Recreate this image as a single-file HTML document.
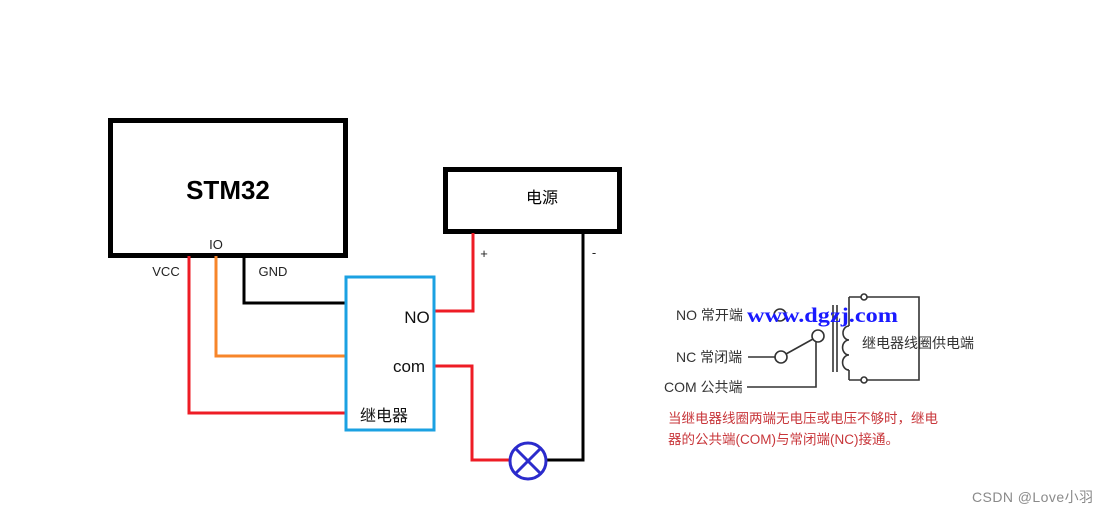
<!DOCTYPE html>
<html><head><meta charset="utf-8"><style>
html,body{margin:0;padding:0;background:#fff;}
svg{display:block;}
text{font-family:"Liberation Sans","Noto Sans CJK SC",sans-serif;}
</style></head><body>
<svg width="1109" height="516" viewBox="0 0 1109 516" xmlns="http://www.w3.org/2000/svg">
<rect width="1109" height="516" fill="#fff"/>
<rect x="110.5" y="120.5" width="235" height="135" fill="none" stroke="#000" stroke-width="5"/>
<text x="228" y="199" font-size="26" font-weight="bold" text-anchor="middle" fill="#000">STM32</text>
<text x="216" y="249" font-size="13" text-anchor="middle" fill="#222">IO</text>
<text x="166" y="276" font-size="13" text-anchor="middle" fill="#222">VCC</text>
<text x="273" y="276" font-size="13" text-anchor="middle" fill="#222">GND</text>
<rect x="445.5" y="169.5" width="174" height="62" fill="none" stroke="#000" stroke-width="5"/>
<text x="542" y="203" font-size="16" text-anchor="middle" fill="#000">电源</text>
<text x="484" y="258" font-size="13" text-anchor="middle" fill="#222">+</text>
<text x="594" y="257" font-size="13" text-anchor="middle" fill="#222">-</text>
<polyline points="189,256 189,413 345,413" fill="none" stroke="#ee1c25" stroke-width="3"/>
<polyline points="216,256 216,356 346,356" fill="none" stroke="#f7852a" stroke-width="3"/>
<polyline points="244,256 244,303 346,303" fill="none" stroke="#000" stroke-width="3"/>
<polyline points="434,311 473,311 473,233" fill="none" stroke="#ee1c25" stroke-width="3"/>
<polyline points="434,366 472,366 472,460 510,460" fill="none" stroke="#ee1c25" stroke-width="3"/>
<polyline points="546,460 583,460 583,233" fill="none" stroke="#000" stroke-width="3"/>
<rect x="346" y="277" width="88" height="153" fill="none" stroke="#1ba1e2" stroke-width="3"/>
<text x="417" y="323" font-size="17" text-anchor="middle" fill="#111">NO</text>
<text x="409" y="372" font-size="17" text-anchor="middle" fill="#111">com</text>
<text x="384" y="421" font-size="16" text-anchor="middle" fill="#111">继电器</text>
<circle cx="528" cy="461" r="18" fill="none" stroke="#2b2bcc" stroke-width="3"/>
<line x1="515" y1="448" x2="541" y2="474" stroke="#2b2bcc" stroke-width="3"/>
<line x1="541" y1="448" x2="515" y2="474" stroke="#2b2bcc" stroke-width="3"/>
<g stroke="#333" stroke-width="1.6" fill="none">
<circle cx="780" cy="315" r="6" fill="#fff"/>
<circle cx="818" cy="336" r="6" fill="#fff"/>
<circle cx="781" cy="357" r="6" fill="#fff"/>
<line x1="748" y1="357" x2="775" y2="357"/>
<line x1="786" y1="354" x2="813" y2="339"/>
<polyline points="747,387 816,387 816,342"/>
<line x1="833" y1="305" x2="833" y2="372"/>
<line x1="837" y1="305" x2="837" y2="372"/>
<polyline points="849,297 919,297 919,380 849,380"/>
<line x1="849" y1="297" x2="849" y2="326"/>
<line x1="849" y1="370" x2="849" y2="380"/>
<path d="M849,326 a6,7 0 0 0 0,14 a6,7 0 0 0 0,15 a6,7 0 0 0 0,15"/>
<circle cx="864" cy="297" r="3" fill="#fff"/>
<circle cx="864" cy="380" r="3" fill="#fff"/>
</g>
<text x="676" y="320" font-size="14" fill="#333">NO 常开端</text>
<text x="676" y="362" font-size="14" fill="#333">NC 常闭端</text>
<text x="664" y="392" font-size="14" fill="#333">COM 公共端</text>
<text x="747" y="322" font-size="21" font-weight="bold" textLength="151" lengthAdjust="spacingAndGlyphs" fill="#1a1aff" style="font-family:'Liberation Serif',serif">www.dgzj.com</text>
<text x="862" y="348" font-size="14" fill="#333">继电器线圈供电端</text>
<text x="668" y="423" font-size="13.5" fill="#c8373b">当继电器线圈两端无电压或电压不够时，继电</text>
<text x="668" y="444" font-size="13.5" fill="#c8373b">器的公共端(COM)与常闭端(NC)接通。</text>
<text x="972" y="502" font-size="14" textLength="121" fill="#8a8a8a">CSDN @Love小羽</text>
</svg>
</body></html>
